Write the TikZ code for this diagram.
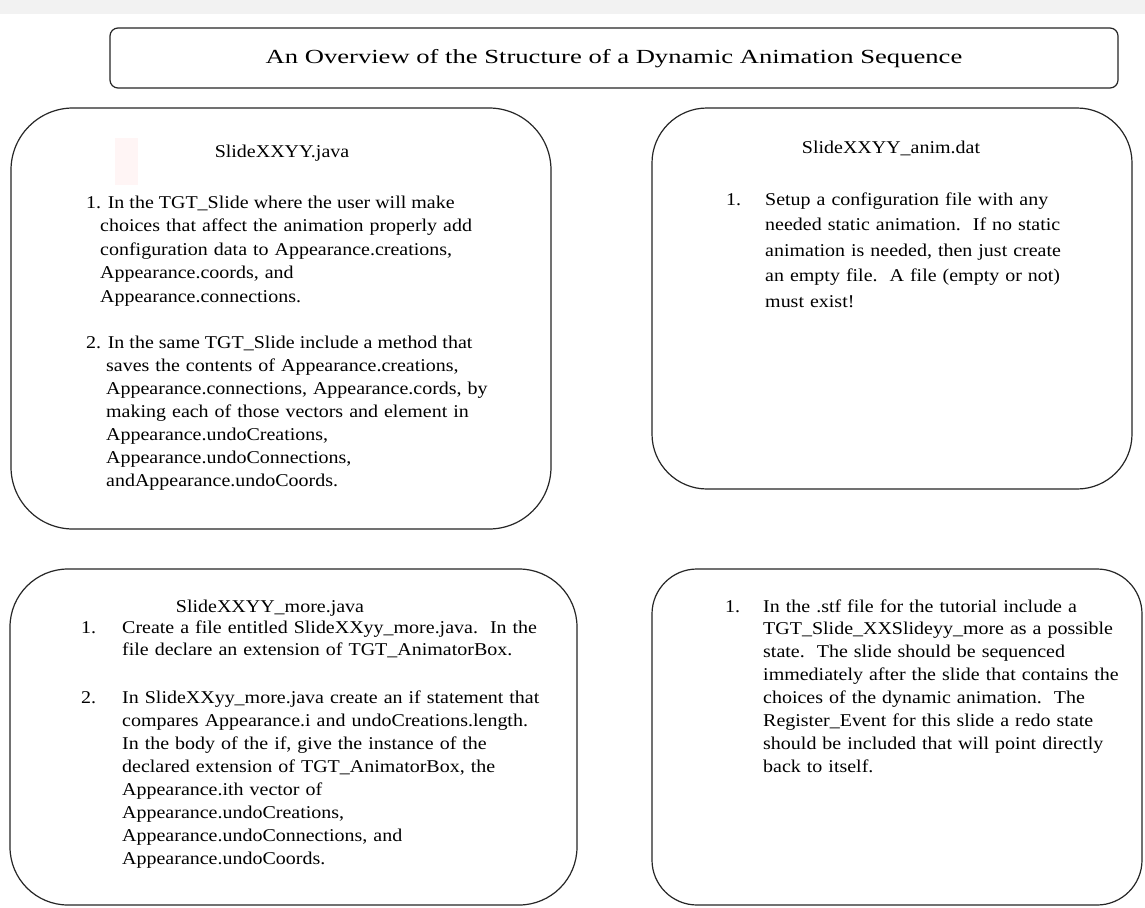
\documentclass[tikz,border=0pt]{standalone}
\usepackage{fontspec}
\setmainfont{Liberation Serif}[FakeStretch=1.11]
\newfontfamily\titlefont{Liberation Serif}[FakeStretch=1.33]
\usetikzlibrary{positioning}

\begin{document}
\begin{tikzpicture}[
  x=1pt, y=-1pt,
  panel/.style={draw=black!85, line width=1.2pt, rounded corners=#1},
  head/.style={anchor=base, inner sep=0pt, font=\fontsize{18}{23}\selectfont},
  num/.style={anchor=base west, inner sep=0pt, font=\fontsize{18}{23}\selectfont},
  item/.style={anchor=base west, inner sep=0pt, text width=460pt, align=left,
    font=\fontsize{18}{#1}\selectfont},
  item/.default=23pt,
]
% page and top strip
\useasboundingbox (0,0) rectangle (1145,907);
\fill[white] (0,0) rectangle (1145,907);
\fill[black!5] (0,0) rectangle (1145,14);

% Title
\draw[panel=8pt] (110,28) rectangle (1118,88);
\node[inner sep=0pt, font=\titlefont\fontsize{20}{24}\selectfont] (title) at (614,59)
  {An Overview of the Structure of a Dynamic Animation Sequence};

% Panels
\draw[panel=62pt] (11,108) rectangle (551,529);
\draw[panel=55pt] (652,108) rectangle (1132,489);
\draw[panel=58pt] (10,569) rectangle (577,905);
\draw[panel=45pt] (652,569) rectangle (1142,905);
\fill[red!4] (115,138) rectangle (138,185);

% SlideXXYY.java
\node[head] (javahead) at (282,157) {SlideXXYY.java};
\node[num] (javaone) at (86,208) {1. In the TGT\_Slide where the user will make};
\node[item=23.5pt] (javaonetext) at (100,231.5) {choices that affect the animation properly add\\
  configuration data to Appearance.creations,\\
  Appearance.coords, and\\
  Appearance.connections.};
\node[num] (javatwo) at (86,348) {2. In the same TGT\_Slide include a method that};
\node[item] (javatwotext) at (106,371) {saves the contents of Appearance.creations,\\
  Appearance.connections, Appearance.cords, by\\
  making each of those vectors and element in\\
  Appearance.undoCreations,\\
  Appearance.undoConnections,\\
  andAppearance.undoCoords.};

% SlideXXYY_anim.dat
\node[head] (animhead) at (891,153) {SlideXXYY\_anim.dat};
\node[num] (animone) at (726,205) {1.};
\node[item=25.5pt] (animonetext) at (765,205) {Setup a configuration file with any\\
  needed static animation.\ \ If no static\\
  animation is needed, then just create\\
  an empty file.\ \ A file (empty or not)\\
  must exist!};

% SlideXXYY_more.java
\node[head] (morehead) at (270,612) {SlideXXYY\_more.java};
\node[num] (moreone) at (81,633) {1.};
\node[item=22pt] (moreonetext) at (122,633) {Create a file entitled SlideXXyy\_more.java.\ \ In the\\
  file declare an extension of TGT\_AnimatorBox.};
\node[num] (moretwo) at (81,703) {2.};
\node[item=23.1pt] (moretwotext) at (122,703) {In SlideXXyy\_more.java create an if statement that\\
  compares Appearance.i and undoCreations.length.\\
  In the body of the if, give the instance of the\\
  declared extension of TGT\_AnimatorBox, the\\
  Appearance.ith vector of\\
  Appearance.undoCreations,\\
  Appearance.undoConnections, and\\
  Appearance.undoCoords.};

% .stf file
\node[num] (stfone) at (725,612) {1.};
\node[item=22.9pt] (stfonetext) at (763,612) {In the .stf file for the tutorial include a\\
  TGT\_Slide\_XXSlideyy\_more as a possible\\
  state.\ \ The slide should be sequenced\\
  immediately after the slide that contains the\\
  choices of the dynamic animation.\ \ The\\
  Register\_Event for this slide a redo state\\
  should be included that will point directly\\
  back to itself.};
\end{tikzpicture}
\end{document}
